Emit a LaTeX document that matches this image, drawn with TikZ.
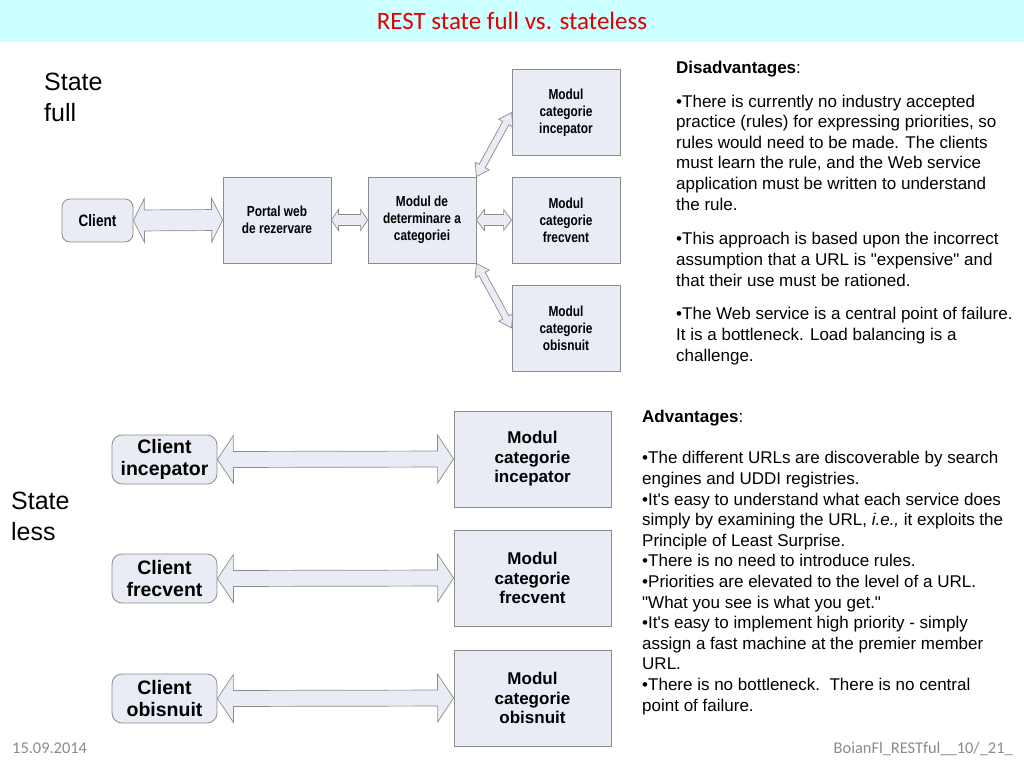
\documentclass[tikz,border=0pt]{standalone}
\usepackage{fontspec}
\setmainfont{Liberation Sans}
\newfontfamily\titlefont{Carlito}
\newfontfamily\narrowfont[FakeStretch=0.82]{Liberation Sans}
\usetikzlibrary{calc}
\definecolor{barcyan}{HTML}{CCFFFF}
\definecolor{boxfill}{HTML}{E9EBF5}
\definecolor{boxline}{HTML}{8C8C8C}
\definecolor{titlered}{HTML}{E00000}
\definecolor{footgray}{HTML}{8A8A8A}
\newcommand\fs[2]{\fontsize{#1}{#2}\selectfont}
\newcommand\dq{\XeTeXglyph\XeTeXcharglyph"22\relax}
\newcommand\ap{\XeTeXglyph\XeTeXcharglyph"27\relax}
\newcommand\fatarrow[5]{% from, to, shaft half-width, head half-width, head length
  \draw[arrowst] let \p1=(#1), \p2=(#2),
     \n1={atan2(\y2-\y1,\x2-\x1)}, \n2={veclen(\x2-\x1,\y2-\y1)}, \n3={\n2-#5pt} in
     [shift={(\p1)}, rotate=\n1]
     (0pt,0pt) -- (#5pt,#4pt) -- (#5pt,#3pt) -- (\n3,#3pt) -- (\n3,#4pt)
     -- (\n2,0pt) -- (\n3,-#4pt) -- (\n3,-#3pt) -- (#5pt,-#3pt) -- (#5pt,-#4pt) -- cycle;}
\tikzset{
  arrowst/.style={draw=boxline, fill=boxfill, line width=0.7pt, line join=miter},
  modbox/.style={draw=boxline, fill=boxfill, line width=0.8pt, inner sep=0pt,
    minimum width=108pt, minimum height=86pt, align=center,
    font=\narrowfont\bfseries\fs{14.5}{17}},
  clientsmall/.style={draw=boxline, fill=boxfill, line width=0.8pt, rounded corners=8pt,
    inner sep=0pt, minimum width=71pt, minimum height=43pt,
    font=\narrowfont\bfseries\fs{16.5}{19}},
  bigbox/.style={draw=boxline, fill=boxfill, line width=0.8pt, inner sep=0pt,
    minimum width=157pt, minimum height=96pt, align=center,
    font=\bfseries\fs{17}{19.5}},
  bigclient/.style={draw=boxline, fill=boxfill, line width=0.8pt, rounded corners=10pt,
    inner sep=0pt, minimum width=105pt, minimum height=49pt, align=center,
    font=\bfseries\fs{19.5}{22}},
  statelbl/.style={anchor=base west, align=left, inner sep=0pt, font=\fs{25}{31}},
  bodytext/.style={anchor=base west, align=left, inner sep=0pt, font=\fs{17}{20.6}},
  foot/.style={text=footgray, inner sep=0pt, font=\titlefont\fs{16.4}{19}}
}
\begin{document}
\begin{tikzpicture}[x=1pt,y=-1pt]
\useasboundingbox (0,0) rectangle (1024,768);
\fill[barcyan] (0,0) rectangle (1024,42);
\node[text=titlered, font=\titlefont\fs{25}{30}, inner sep=0pt] (title) at (512,21) {REST state full vs. stateless};

% State full (anchor = baseline of last line)
\node[statelbl] (sflbl) at (44,121) {State\\full};
\node[clientsmall] (client) at (97.5,220.5) {Client};
\node[modbox] (portal) at (277,220) {Portal web\\de rezervare};
\node[modbox] (det) at (422,220) {Modul de\\determinare a\\categoriei};
\node[modbox] (inc) at (566,112.5) {Modul\\categorie\\incepator};
\node[modbox] (fre) at (566,220) {Modul\\categorie\\frecvent};
\node[modbox] (obi) at (566,328) {Modul\\categorie\\obisnuit};
\fatarrow{client.east}{portal.west}{10.5}{22}{11}
\fatarrow{portal.east}{det.west}{5.5}{10.5}{7}
\fatarrow{det.east}{fre.west}{5.5}{10.5}{8}
\fatarrow{det.north east}{inc.west}{3.5}{8}{12}
\fatarrow{det.south east}{obi.west}{3.5}{8}{12}

% State less
\node[statelbl] (sllbl) at (11,540) {State\\less};
\node[bigclient] (ci) at (164.5,459.5) {Client\\incepator};
\node[bigclient] (cf) at (164.5,578.5) {Client\\frecvent};
\node[bigclient] (co) at (164.5,698.5) {Client\\obisnuit};
\node[bigbox] (mi) at (532.5,459) {Modul\\categorie\\incepator};
\node[bigbox] (mf) at (532.5,578) {Modul\\categorie\\frecvent};
\node[bigbox] (mo) at (532.5,698) {Modul\\categorie\\obisnuit};
\fatarrow{ci.east}{mi.west}{8}{24}{16}
\fatarrow{cf.east}{mf.west}{8}{24}{16}
\fatarrow{co.east}{mo.west}{8}{24}{16}

% Texts (anchor = baseline of last line)
\node[bodytext] (dis) at (676,73) {\textbf{Disadvantages}:};
\node[bodytext] (dis1) at (676,210) {•There is currently no industry accepted\\practice (rules) for expressing priorities, so\\rules would need to be made. The clients\\must learn the rule, and the Web service\\application must be written to understand\\the rule.};
\node[bodytext] (dis2) at (676,286) {•This approach is based upon the incorrect\\assumption that a URL is \dq expensive\dq{} and\\that their use must be rationed.};
\node[bodytext] (dis3) at (676,361) {•The Web service is a central point of failure.\\It is a bottleneck. Load balancing is a\\challenge.};

\node[bodytext] (adv) at (642,422) {\textbf{Advantages}:};
\node[bodytext] (adv1) at (642,711) {•The different URLs are discoverable by search\\engines and UDDI registries.\\•It\ap s easy to understand what each service does\\simply by examining the URL, \textit{i.e.,} it exploits the\\Principle of Least Surprise.\\•There is no need to introduce rules.\\•Priorities are elevated to the level of a URL.\\\dq What you see is what you get.\dq\\•It\ap s easy to implement high priority - simply\\assign a fast machine at the premier member\\URL.\\•There is no bottleneck.\ \ There is no central\\point of failure.};

% Footer
\node[foot, anchor=base west] (date) at (12,753) {15.09.2014};
\node[foot, anchor=base east] (pg) at (1013,753) {BoianFl\_RESTful\_\_10/\_21\_};
\end{tikzpicture}
\end{document}
